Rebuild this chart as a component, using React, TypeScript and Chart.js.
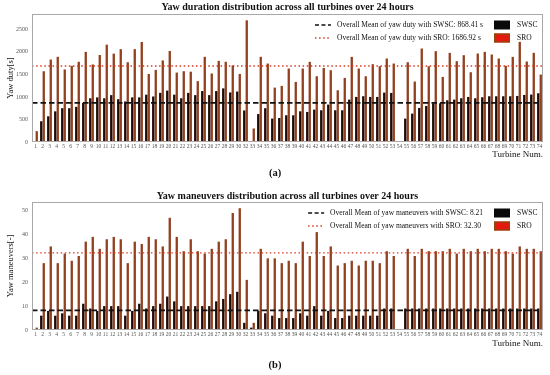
import React, { useEffect, useRef } from "react";
import { Chart, registerables } from "chart.js";

Chart.register(...registerables);

const turbines: string[] = [
  "1","2","3","4","5","6","7","8","9","10","11","12","13","14","15","16","17","18","19","20",
  "21","22","23","24","25","26","27","28","29","30","32","33","34","35","36","37","38","39","40","41",
  "42","43","44","45","46","47","48","49","50","51","52","53","54","55","56","57","58","59","60","61",
  "62","63","64","65","66","67","68","69","70","71","72","73","74",
];

const dutySWSC: number[] = [
  20, 460, 570, 680, 750, 750, 780, 870, 970, 990, 970, 1040, 950, 900, 990, 990, 1050, 1010, 1090, 1140,
  1050, 970, 1090, 1040, 1130, 1040, 1130, 1190, 1100, 1120, 700, 10, 620, 750, 520, 533, 593, 593, 681, 667,
  719, 704, 830, 704, 704, 941, 1000, 1015, 1000, 1000, 1096, 1089, 0, 519, 630, 756, 800, 859, 859, 926,
  941, 970, 1000, 970, 993, 1015, 1015, 1015, 1015, 1022, 1044, 1052, 1081,
];

const dutySRO: number[] = [
  240, 1570, 1830, 1890, 1610, 1690, 1780, 2000, 1720, 1930, 2160, 1960, 2060, 1770, 2060, 2220, 1510, 1600, 1810, 2020,
  1540, 1570, 1560, 1350, 1890, 1520, 1800, 1780, 1700, 1510, 2700, 300, 1890, 1740, 1207, 1244, 1630, 1333, 1630, 1778,
  1459, 1644, 1593, 1148, 1422, 1889, 1630, 1459, 1726, 1681, 1852, 1741, 0, 1770, 1341, 2074, 1681, 2015, 1444, 1978,
  1793, 1926, 1548, 1963, 2000, 1941, 1852, 1689, 1889, 2222, 1785, 1978, 1496,
];

const manSWSC: number[] = [
  0, 6, 8, 6, 7, 6, 6, 11, 9, 8, 10, 10, 10, 6, 8, 11, 9, 10, 11, 14,
  12, 10, 10, 10, 10, 10, 12, 13, 15, 16, 3, 1, 8, 7, 6, 5, 5, 5, 7, 6,
  10, 6, 8, 5, 5, 6, 6, 6, 6, 6, 9, 9, 0, 9, 9, 9, 9, 9, 9, 9,
  9, 9, 9, 9, 9, 9, 9, 9, 9, 9, 9, 9, 9,
];

const manSRO: number[] = [
  1, 28, 35, 28, 32, 29, 31, 37, 39, 34, 38, 39, 38, 28, 37, 36, 39, 38, 35, 47,
  39, 33, 38, 33, 32, 34, 37, 38, 49, 51, 21, 3, 34, 30, 30, 28, 29, 28, 37, 31,
  41, 31, 35, 27, 28, 29, 27, 29, 29, 28, 33, 31, 0, 34, 31, 34, 33, 33, 33, 34,
  32, 34, 33, 34, 33, 34, 34, 33, 32, 35, 34, 34, 33,
];

const dutyTicks: number[] = [0, 500, 1000, 1500, 2000, 2500];
const manTicks: number[] = [0, 10, 20, 30, 40, 50];

const dutyMeanSWSC = 868.41;
const dutyMeanSRO = 1686.92;
const manMeanSWSC = 8.21;
const manMeanSRO = 32.3;

const SERIF = "'Liberation Serif', 'DejaVu Serif', serif";

type PanelCfg = {
  title: string;
  yTitle: string;
  swsc: number[];
  sro: number[];
  meanSWSC: number;
  meanSRO: number;
  legendSWSC: string;
  legendSRO: string;
  yMax: number;
  yTicks: number[];
  panel: string;
  topPad: number;
  titleY: number;
  xTitlePadBottom: number;
  bottomPad: number;
  panelY: number;
};

function makeOverlay(cfg: PanelCfg) {
  return {
    id: "overlay",
    afterDatasetsDraw(chart: any) {
      const { ctx, chartArea: a, scales } = chart;
      const y = scales.y;
      ctx.save();
      // mean lines
      const ySW = y.getPixelForValue(cfg.meanSWSC);
      const ySR = y.getPixelForValue(cfg.meanSRO);
      ctx.beginPath();
      ctx.setLineDash([1.5, 2.6]);
      ctx.lineWidth = 1.4;
      ctx.strokeStyle = "#d9391f";
      ctx.moveTo(a.left, ySR);
      ctx.lineTo(a.right, ySR);
      ctx.stroke();
      ctx.beginPath();
      ctx.setLineDash([5.5, 3]);
      ctx.lineWidth = 1.6;
      ctx.strokeStyle = "#111111";
      ctx.moveTo(a.left, ySW);
      ctx.lineTo(a.right, ySW);
      ctx.stroke();
      ctx.setLineDash([]);

      // frame
      ctx.lineWidth = 1;
      ctx.strokeStyle = "#a8a8a8";
      ctx.strokeRect(a.left + 0.5, a.top + 0.5, a.width - 1, a.height - 1);

      // title
      ctx.fillStyle = "#111";
      ctx.font = `bold 10px ${SERIF}`;
      ctx.textAlign = "center";
      ctx.textBaseline = "middle";
      ctx.fillText(cfg.title, (a.left + a.right) / 2, cfg.titleY);

      // legend
      ctx.font = `7.5px ${SERIF}`;
      ctx.textBaseline = "middle";
      ctx.fillStyle = "#111";
      const r1 = a.top + 11;
      const r2 = a.top + 24;
      const boxX = a.right - 49;
      const w = Math.max(ctx.measureText(cfg.legendSWSC).width, ctx.measureText(cfg.legendSRO).width);
      const textX = boxX - 11 - w;
      ctx.textAlign = "left";
      ctx.fillText(cfg.legendSWSC, textX, r1);
      ctx.fillText(cfg.legendSRO, textX, r2);
      ctx.beginPath();
      ctx.setLineDash([4, 2.5]);
      ctx.lineWidth = 1.6;
      ctx.strokeStyle = "#111";
      ctx.moveTo(textX - 22, r1);
      ctx.lineTo(textX - 6, r1);
      ctx.stroke();
      ctx.beginPath();
      ctx.setLineDash([1.5, 2.6]);
      ctx.lineWidth = 1.4;
      ctx.strokeStyle = "#d9391f";
      ctx.moveTo(textX - 22, r2);
      ctx.lineTo(textX - 6, r2);
      ctx.stroke();
      ctx.setLineDash([]);
      ctx.fillStyle = "#0a0a0a";
      ctx.fillRect(boxX, r1 - 4.5, 16, 9);
      ctx.fillStyle = "#e41a0f";
      ctx.fillRect(boxX, r2 - 4.5, 16, 9);
      ctx.lineWidth = 1.2;
      ctx.strokeStyle = "#8a4a10";
      ctx.strokeRect(boxX + 0.6, r2 - 3.9, 14.8, 7.8);
      ctx.fillStyle = "#111";
      ctx.fillText("SWSC", boxX + 23, r1);
      ctx.fillText("SRO", boxX + 23, r2);

      // panel label
      ctx.font = `bold 10.5px ${SERIF}`;
      ctx.textAlign = "center";
      ctx.fillText(cfg.panel, chart.width / 2, cfg.panelY);
      ctx.restore();
    },
  };
}

function Panel({ cfg, height, top }: { cfg: PanelCfg; height: number; top: number }) {
  const ref = useRef<HTMLCanvasElement | null>(null);
  useEffect(() => {
    if (!ref.current) return;
    const chart = new Chart(ref.current, {
      type: "bar",
      data: {
        labels: turbines,
        datasets: [
          {
            label: "SWSC",
            data: cfg.swsc,
            backgroundColor: "#1e0a06",
            categoryPercentage: 0.72,
            barPercentage: 0.92,
          },
          {
            label: "SRO",
            data: cfg.sro,
            backgroundColor: "#93401f",
            categoryPercentage: 0.72,
            barPercentage: 0.92,
          },
        ],
      },
      options: {
        responsive: false,
        animation: false,
        devicePixelRatio: 1,
        layout: { padding: { left: 0, right: 7, top: cfg.topPad, bottom: cfg.bottomPad } },
        plugins: {
          legend: { display: false },
          tooltip: { enabled: false },
          title: { display: false },
        },
        scales: {
          x: {
            grid: { display: false, drawTicks: false, tickLength: 0 },
            border: { display: false },
            ticks: {
              autoSkip: false,
              maxRotation: 0,
              minRotation: 0,
              padding: 1,
              color: "#555",
              font: { family: SERIF, size: 5.5 },
            },
            title: {
              display: true,
              text: "Turbine Num.",
              align: "end",
              color: "#111",
              font: { family: SERIF, size: 9 },
              padding: { top: 0, bottom: cfg.xTitlePadBottom },
            },
            afterFit: (s: any) => {
              s.height = 20;
            },
          },
          y: {
            min: 0,
            max: cfg.yMax,
            grid: { display: false, drawTicks: false, tickLength: 0 },
            border: { display: false },
            afterBuildTicks: (s: any) => {
              s.ticks = cfg.yTicks.map((v) => ({ value: v }));
            },
            ticks: {
              padding: 4,
              color: "#555",
              font: { family: SERIF, size: 6 },
              callback: (v: any) => String(v),
            },
            title: {
              display: true,
              text: cfg.yTitle,
              color: "#111",
              font: { family: SERIF, size: 8.5 },
              padding: { top: 6, bottom: 0 },
            },
            afterFit: (s: any) => {
              s.width = 32;
            },
          },
        },
      },
      plugins: [makeOverlay(cfg)],
    } as any);
    return () => chart.destroy();
  }, [cfg]);
  return (
    <div style={{ position: "absolute", left: 0, top, width: 550, height }}>
      <canvas ref={ref} width={550} height={height} style={{ display: "block" }} />
    </div>
  );
}

const topCfg: PanelCfg = {
  title: "Yaw duration distribution across all turbines over 24 hours",
  yTitle: "Yaw duty[s]",
  swsc: dutySWSC,
  sro: dutySRO,
  meanSWSC: dutyMeanSWSC,
  meanSRO: dutyMeanSRO,
  legendSWSC: `Overall Mean of yaw duty with SWSC: ${dutyMeanSWSC.toFixed(2)} s`,
  legendSRO: `Overall Mean of yaw duty with SRO: ${dutyMeanSRO.toFixed(2)} s`,
  yMax: 2840,
  yTicks: dutyTicks,
  panel: "(a)",
  topPad: 14,
  titleY: 7.5,
  xTitlePadBottom: 2,
  bottomPad: 23,
  panelY: 173,
};

const bottomCfg: PanelCfg = {
  title: "Yaw maneuvers distribution across all turbines over 24 hours",
  yTitle: "Yaw maneuvers[-]",
  swsc: manSWSC,
  sro: manSRO,
  meanSWSC: manMeanSWSC,
  meanSRO: manMeanSRO,
  legendSWSC: `Overall Mean of yaw maneuvers with SWSC: ${manMeanSWSC.toFixed(2)}`,
  legendSRO: `Overall Mean of yaw maneuvers with SRO: ${manMeanSRO.toFixed(2)}`,
  yMax: 53.6,
  yTicks: manTicks,
  panel: "(b)",
  topPad: 17,
  titleY: 11.7,
  xTitlePadBottom: 1,
  bottomPad: 25,
  panelY: 180,
};

export default function App() {
  return (
    <div style={{ position: "absolute", left: 0, top: 0, width: 550, height: 375, background: "#fff" }}>
      <Panel cfg={topCfg} height={185} top={0} />
      <Panel cfg={bottomCfg} height={190} top={185} />
    </div>
  );
}
